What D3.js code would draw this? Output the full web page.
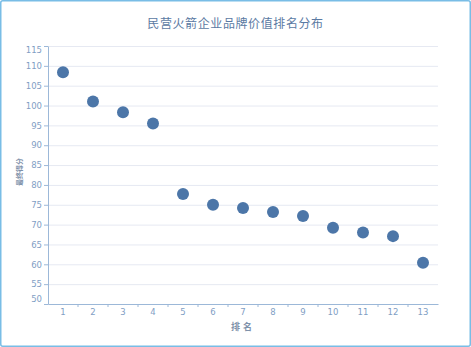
<!DOCTYPE html>
<meta charset="utf-8">
<style>
body { margin: 0; background: #fff; }
svg { display: block; }
.frame { fill: none; stroke: #79bde6; stroke-width: 1.5px; }
.title { font-family: "Noto Sans CJK SC", sans-serif; font-size: 12px; fill: #5b7aa3; letter-spacing: 0.6px; }
.axis text { font-family: "DejaVu Sans", sans-serif; font-size: 8.5px; fill: #7f9ec4; }
.axis path, .axis line { stroke: #9cb8d8; }
.grid line { stroke: #e6e9f2; }
.grid path { display: none; }
.axis-title { font-family: "Noto Sans CJK SC", sans-serif; font-weight: bold; fill: #7f92aa; }
</style>
<body>
<script src="https://d3js.org/d3.v7.min.js"></script>
<script>
var ranks = ["1","2","3","4","5","6","7","8","9","10","11","12","13"];
var scores = [108.4, 101.0, 98.3, 95.5, 77.7, 75.0, 74.2, 73.2, 72.2, 69.2, 68.0, 67.1, 60.4];
var yTicks = [50,55,60,65,70,75,80,85,90,95,100,105,110,115];

var width = 471, height = 347,
    plotLeft = 48, plotRight = 438, plotTop = 46, plotBottom = 304;

var svg = d3.select("body").append("svg")
    .attr("width", width)
    .attr("height", height);

svg.append("rect")
    .attr("class", "frame")
    .attr("x", 0.75).attr("y", 0.75)
    .attr("width", width - 1.5).attr("height", height - 1.5)
    .attr("rx", 2);

var x = d3.scaleBand().domain(ranks).range([plotLeft, plotRight]);
var y = d3.scaleLinear().domain([50, 115]).range([plotBottom, plotTop]);

svg.append("text")
    .attr("class", "title")
    .attr("x", width / 2).attr("y", 28)
    .attr("text-anchor", "middle")
    .text("民营火箭企业品牌价值排名分布");

// grid
svg.append("g")
    .attr("class", "grid")
    .attr("transform", "translate(" + plotLeft + ",0)")
    .call(d3.axisLeft(y).tickValues(yTicks).tickSize(-(plotRight - plotLeft)).tickFormat(""));

// y axis
var gy = svg.append("g")
    .attr("class", "axis")
    .attr("transform", "translate(" + plotLeft + ",0)")
    .call(d3.axisLeft(y).tickValues(yTicks).tickSize(4).tickSizeOuter(0).tickPadding(2));
gy.selectAll(".tick text")
    .attr("dy", function(d) { return d === 50 ? "-0.3em" : d === 115 ? "0.75em" : "0.32em"; });

// x axis, ticks on band edges
var gx = svg.append("g")
    .attr("class", "axis")
    .attr("transform", "translate(0," + plotBottom + ")")
    .call(d3.axisBottom(x).tickSize(0).tickSizeOuter(0).tickPadding(5));
gx.selectAll(".edge")
    .data(ranks.slice(1))
  .enter().append("line")
    .attr("x1", function(d) { return x(d); })
    .attr("x2", function(d) { return x(d); })
    .attr("y1", 0).attr("y2", 3);

svg.append("text")
    .attr("class", "axis-title")
    .attr("x", (plotLeft + plotRight) / 2).attr("y", 330)
    .attr("text-anchor", "middle")
    .style("font-size", "9px")
    .style("letter-spacing", "3px")
    .text("排名");

svg.append("text")
    .attr("class", "axis-title")
    .attr("transform", "translate(22,172) rotate(-90)")
    .attr("text-anchor", "middle")
    .style("font-size", "7px")
    .text("最终得分");

svg.append("g")
  .selectAll("circle")
    .data(scores)
  .enter().append("circle")
    .attr("cx", function(d, i) { return x(ranks[i]) + x.bandwidth() / 2; })
    .attr("cy", function(d) { return y(d); })
    .attr("r", 6)
    .attr("fill", "#4c76a8");
</script>
</body>
